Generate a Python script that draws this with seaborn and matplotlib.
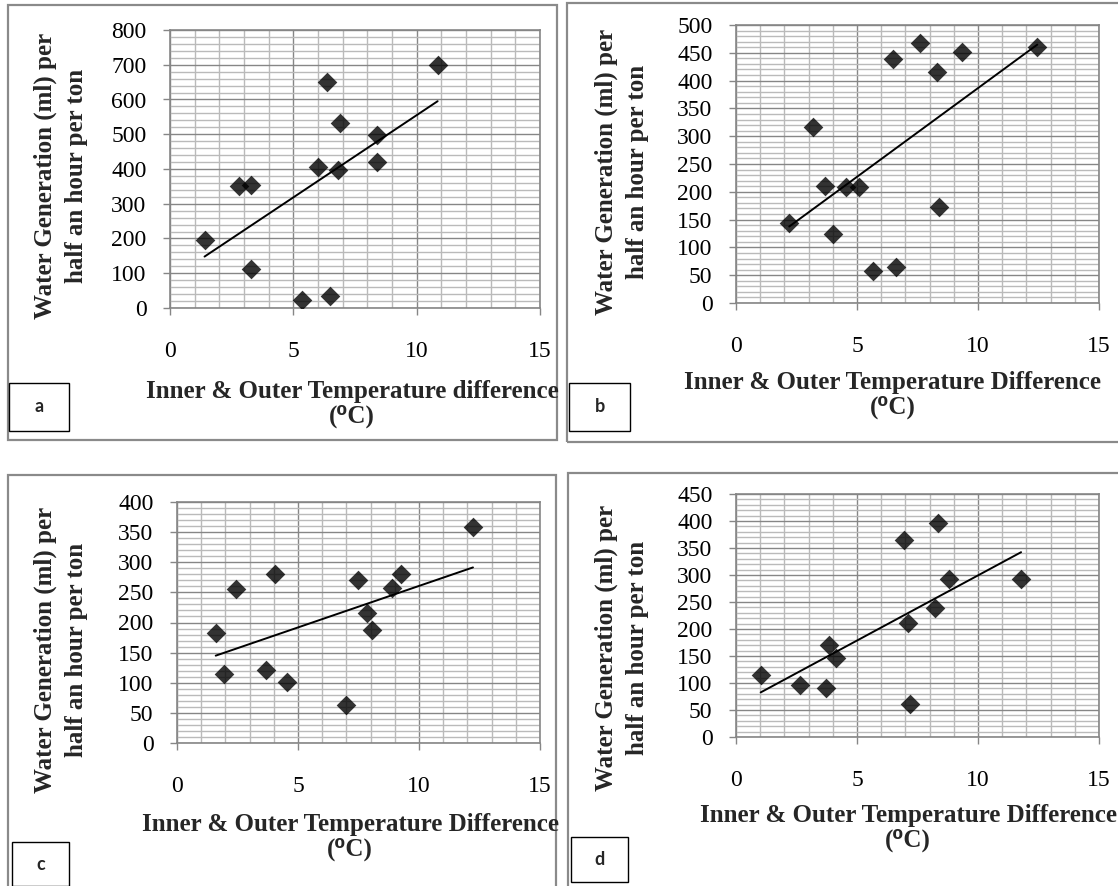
import numpy as np
import pandas as pd
import matplotlib
matplotlib.use("Agg")
import matplotlib.pyplot as plt
from matplotlib.ticker import MultipleLocator
from matplotlib.patches import Rectangle
import seaborn as sns

# ---------------- data ----------------
a_temp_diff = [1.4, 2.8, 3.3, 3.3, 5.35, 6.5, 6.35, 6.0, 6.8, 6.9, 8.4, 8.4, 10.85]
a_water = [195, 352, 355, 113, 22, 35, 650, 406, 397, 533, 497, 420, 700]

b_temp_diff = [2.2, 3.2, 3.69, 4.02, 4.55, 5.10, 5.65, 6.61, 6.47, 7.60, 8.32, 8.40, 9.35, 12.45]
b_water = [144, 317, 210, 124, 208, 208, 58, 64, 439, 467, 416, 172, 451, 461]

c_temp_diff = [1.6, 1.93, 2.42, 4.07, 3.67, 4.54, 7.00, 7.48, 7.85, 8.07, 8.87, 9.24, 12.23]
c_water = [183, 114, 256, 280, 121, 101, 63, 270, 215, 188, 257, 280, 358]

d_temp_diff = [1.02, 2.64, 3.73, 3.86, 4.15, 6.93, 7.09, 7.20, 8.22, 8.33, 8.79, 11.78]
d_water = [115, 96, 90, 171, 146, 365, 211, 61, 238, 396, 293, 293]

panel_letters = ["a", "b", "c", "d"]
x_titles = ["Inner & Outer Temperature difference",
            "Inner & Outer Temperature Difference",
            "Inner & Outer Temperature Difference",
            "Inner & Outer Temperature Difference"]
x_unit = "(\u2070C)"
y_title = "Water Generation (ml) per\nhalf an hour per ton"
y_max = [800, 500, 400, 450]
y_step = [100, 50, 50, 50]
x_max = 15
x_step = 5

# ---------------- style ----------------
sns.set_style("white")
plt.rcParams["font.family"] = ["Liberation Serif", "DejaVu Sans"]

W, H = 1118, 886
fig = plt.figure(figsize=(W / 100, H / 100), dpi=100)

def rect(x0, y0, x1, y1):
    return [x0 / W, 1 - y1 / H, (x1 - x0) / W, (y1 - y0) / H]

# layout in pixels: axes box, xlabel centre, ylabel centre, letter box, panel frame
layout = [
    dict(ax=(170, 30, 540, 308), xl=(352, 404), yl=(61, 176), box=(9, 383, 69, 431), frame=(8, 5, 557, 440)),
    dict(ax=(736, 25, 1099, 303), xl=(893, 395), yl=(622, 172), box=(569, 383, 630, 431), frame=(567, 3, 1125, 442)),
    dict(ax=(177, 502, 540, 743), xl=(350, 837), yl=(61, 650), box=(12, 842, 69, 886), frame=(8, 475, 556, 900)),
    dict(ax=(736, 494, 1099, 737), xl=(908, 828), yl=(622, 648), box=(571, 837, 628, 882), frame=(568, 473, 1125, 900)),
]

xs = [a_temp_diff, b_temp_diff, c_temp_diff, d_temp_diff]
ys = [a_water, b_water, c_water, d_water]

major_col = "#868686"
minor_col = "#bababa"

for i in range(4):
    L = layout[i]
    x0, y0, x1, y1 = L["ax"]
    ax = fig.add_axes(rect(x0, y0, x1, y1))
    df = pd.DataFrame({"temp": xs[i], "water": ys[i]})
    sns.regplot(data=df, x="temp", y="water", ax=ax, ci=None, truncate=True,
                marker="D", color="black",
                scatter_kws=dict(s=100, linewidths=0, zorder=3),
                line_kws=dict(lw=1.4, color="black", zorder=4))
    ax.set_xlim(0, x_max)
    ax.set_ylim(0, y_max[i])
    ax.xaxis.set_major_locator(MultipleLocator(x_step))
    ax.xaxis.set_minor_locator(MultipleLocator(1))
    ax.yaxis.set_major_locator(MultipleLocator(y_step[i]))
    ax.yaxis.set_minor_locator(MultipleLocator(y_step[i] / 5))
    ax.set_axisbelow(True)
    ax.grid(which="minor", color=minor_col, lw=1.0)
    ax.grid(which="major", color=major_col, lw=1.0)
    for s in ax.spines.values():
        s.set_color(major_col)
        s.set_linewidth(1.2)
    ax.tick_params(axis="both", which="major", direction="out", length=5, width=1.0,
                   color=major_col, labelsize=17, labelcolor="black",
                   left=True, bottom=True)
    ax.tick_params(axis="x", which="major", pad=19)
    ax.tick_params(axis="y", which="major", pad=12)
    ax.tick_params(which="minor", length=0)

    ax.set_xlabel(x_titles[i] + "\n" + x_unit, fontsize=18,
                  fontweight="bold", linespacing=1.12)
    ax.set_ylabel(y_title, fontsize=18, fontweight="bold", linespacing=1.42)
    xlx, xly = L["xl"]
    ax.xaxis.set_label_coords((xlx - x0) / (x1 - x0), (y1 - xly) / (y1 - y0))
    ax.xaxis.label.set_va("center")
    ylx, yly = L["yl"]
    ax.yaxis.set_label_coords((ylx - x0) / (x1 - x0), (y1 - yly) / (y1 - y0))
    ax.yaxis.label.set_va("center")

    # panel frame
    fx0, fy0, fx1, fy1 = L["frame"]
    fig.add_artist(Rectangle((fx0 / W, 1 - fy1 / H), (fx1 - fx0) / W, (fy1 - fy0) / H,
                             transform=fig.transFigure, fill=False,
                             edgecolor="#8a8a8a", lw=1.6, zorder=0))
    # letter box
    bx0, by0, bx1, by1 = L["box"]
    fig.add_artist(Rectangle((bx0 / W, 1 - by1 / H), (bx1 - bx0) / W, (by1 - by0) / H,
                             transform=fig.transFigure, fill=True, facecolor="white",
                             edgecolor="black", lw=1.0, zorder=5))
    fig.text((bx0 + bx1) / 2 / W, 1 - (by0 + by1) / 2 / H, panel_letters[i],
             ha="center", va="center", fontsize=13, fontweight="bold",
             family=["Lato", "DejaVu Sans"], zorder=6)

fig.savefig("out.png", dpi=100)
